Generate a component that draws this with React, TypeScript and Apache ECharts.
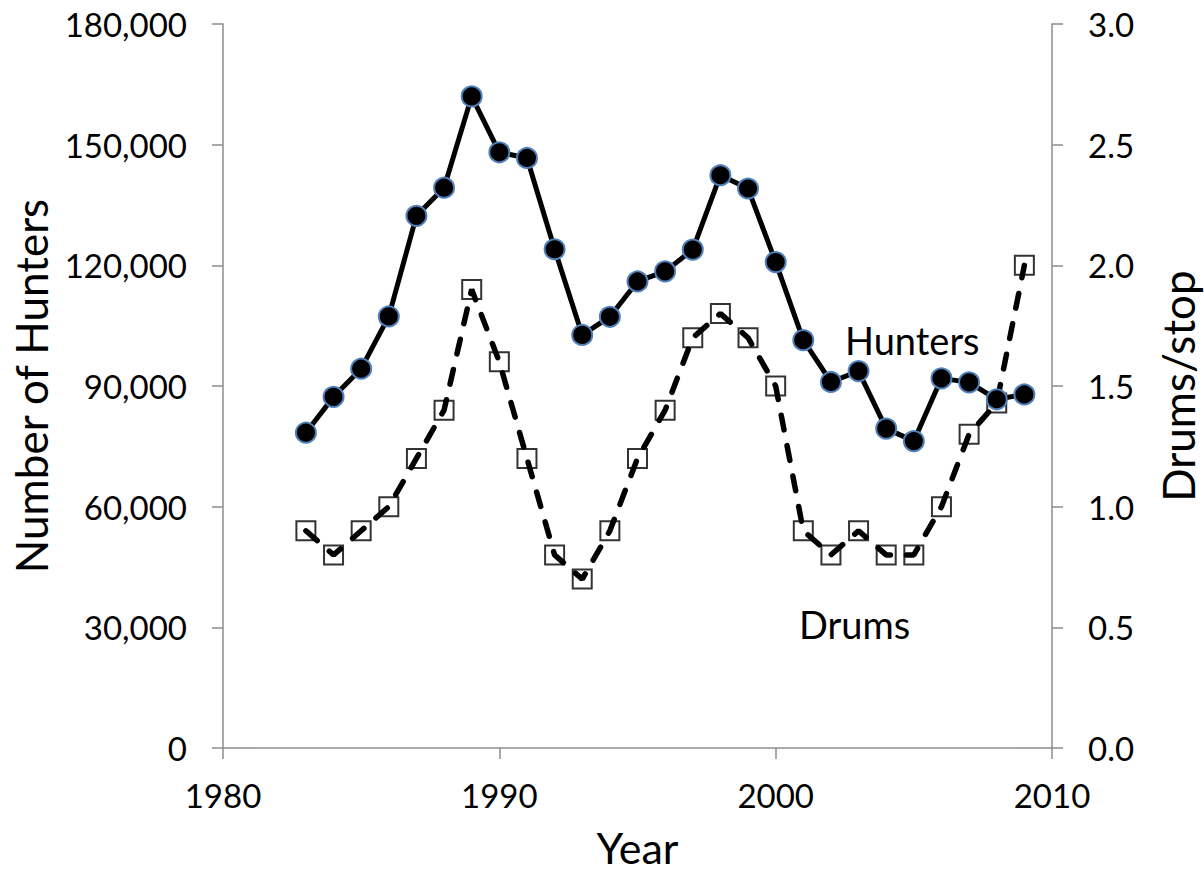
import React, { useEffect, useRef } from "react";
import * as echarts from "echarts";

const years = [1983, 1984, 1985, 1986, 1987, 1988, 1989, 1990, 1991, 1992, 1993, 1994, 1995, 1996, 1997, 1998, 1999, 2000, 2001, 2002, 2003, 2004, 2005, 2006, 2007, 2008, 2009];
const hunters = [78400, 87300, 94300, 107300, 132300, 139300, 162000, 148100, 146700, 124000, 102700, 107200, 116000, 118500, 123900, 142400, 139100, 120800, 101400, 91000, 93700, 79400, 76300, 91900, 90900, 86700, 87900];
const drums = [0.9, 0.8, 0.9, 1.0, 1.2, 1.4, 1.9, 1.6, 1.2, 0.8, 0.7, 0.9, 1.2, 1.4, 1.7, 1.8, 1.7, 1.5, 0.9, 0.8, 0.9, 0.8, 0.8, 1.0, 1.3, 1.43, 2.0];
const xTicks = { min: 1980, max: 2010, interval: 10 };
const leftTicks = { min: 0, max: 180000, interval: 30000 };
const rightTicks = { min: 0, max: 3, interval: 0.5 };
const xTitle = "Year";
const leftTitle = "Number of Hunters";
const rightTitle = "Drums/stop";
const huntersLabel = "Hunters";
const drumsLabel = "Drums";

const FONT = "Lato";
const AXIS_COLOR = "#8c8c8c";

export default function App() {
  const ref = useRef<HTMLDivElement>(null);
  useEffect(() => {
    if (!ref.current) return;
    const chart = echarts.init(ref.current, undefined, { renderer: "svg" });
    const hData = years.map((y, i) => [y, hunters[i]]);
    const dData = years.map((y, i) => [y, drums[i]]);
    const axisLine = { show: true, lineStyle: { color: AXIS_COLOR, width: 1.5 } };
    const axisTick = { show: true, length: 11, lineStyle: { color: AXIS_COLOR, width: 1.5 } };
    chart.setOption({
      animation: false,
      backgroundColor: "#ffffff",
      textStyle: { fontFamily: FONT },
      grid: {
        left: 223,
        right: 152,
        top: 24,
        bottom: 129,
        containLabel: false,
        outerBoundsMode: "none",
      },
      xAxis: {
        type: "value",
        min: xTicks.min,
        max: xTicks.max,
        interval: xTicks.interval,
        axisLine,
        axisTick,
        splitLine: { show: false },
        axisLabel: {
          fontSize: 33,
          color: "#000",
          fontFamily: FONT,
          margin: 30,
          formatter: (v: number) => String(v),
        },
        name: xTitle,
        nameLocation: "middle",
        nameGap: 78,
        nameTextStyle: { fontSize: 43, lineHeight: 43, color: "#000", fontFamily: FONT },
      },
      yAxis: [
        {
          type: "value",
          position: "left",
          min: leftTicks.min,
          max: leftTicks.max,
          interval: leftTicks.interval,
          axisLine,
          axisTick,
          splitLine: { show: false },
          axisLabel: {
            fontSize: 33,
            color: "#000",
            fontFamily: FONT,
            margin: 36,
            formatter: (v: number) => v.toLocaleString("en-US"),
          },
          name: leftTitle,
          nameLocation: "middle",
          nameRotate: 90,
          nameGap: 170,
          nameTextStyle: { fontSize: 44, lineHeight: 44, color: "#000", fontFamily: FONT },
        },
        {
          type: "value",
          position: "right",
          min: rightTicks.min,
          max: rightTicks.max,
          interval: rightTicks.interval,
          axisLine,
          axisTick,
          splitLine: { show: false },
          axisLabel: {
            fontSize: 33,
            color: "#000",
            fontFamily: FONT,
            margin: 36,
            formatter: (v: number) => v.toFixed(1),
          },
          name: rightTitle,
          nameLocation: "middle",
          nameRotate: 90,
          nameGap: 104,
          nameTextStyle: { fontSize: 44, lineHeight: 44, color: "#000", fontFamily: FONT },
        },
      ],
      series: [
        {
          name: "Drums markers",
          type: "scatter",
          yAxisIndex: 1,
          data: dData,
          symbol: "rect",
          symbolSize: 19,
          itemStyle: { color: "#ffffff", borderColor: "#000000", borderWidth: 2 },
          z: 2,
        },
        {
          name: "Drums",
          type: "line",
          yAxisIndex: 1,
          data: dData,
          showSymbol: false,
          symbol: "none",
          lineStyle: { color: "#000000", width: 5.5, type: [15, 16], cap: "round" },
          z: 3,
        },
        {
          name: "Hunters",
          type: "line",
          yAxisIndex: 0,
          data: hData,
          symbol: "circle",
          symbolSize: 20,
          itemStyle: { color: "#000000", borderColor: "#4f81bd", borderWidth: 2 },
          lineStyle: { color: "#000000", width: 5 },
          z: 4,
        },
      ],
      graphic: [
        {
          type: "text",
          left: 845,
          top: 321,
          style: { text: huntersLabel, font: `38px ${FONT}`, fill: "#000" },
        },
        {
          type: "text",
          left: 799,
          top: 605,
          style: { text: drumsLabel, font: `38px ${FONT}`, fill: "#000" },
        },
      ],
    });
    return () => chart.dispose();
  }, []);
  return (
    <div
      ref={ref}
      style={{ position: "fixed", left: 0, top: 0, width: 1204, height: 877, background: "#fff" }}
    />
  );
}
